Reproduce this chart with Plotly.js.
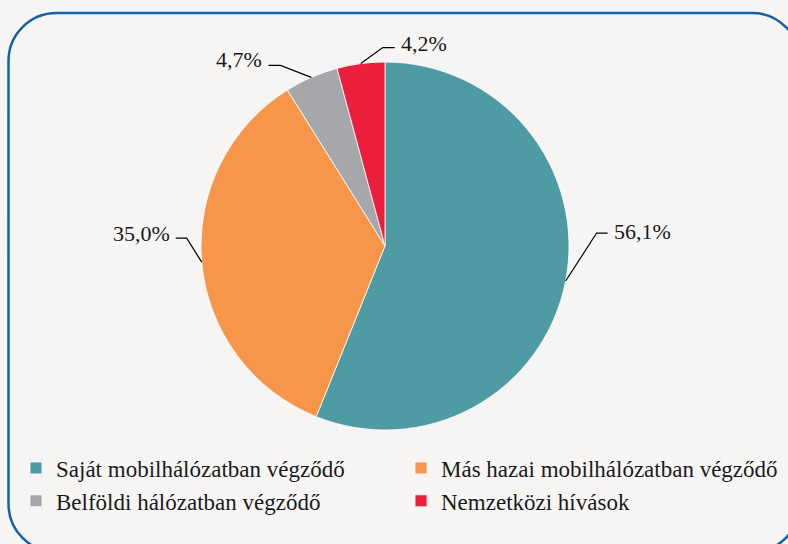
<!DOCTYPE html>
<html>
<head>
<meta charset="utf-8">
<script src="https://cdn.plot.ly/plotly-3.0.1.min.js"></script>
<style>html,body{margin:0;padding:0;background:#f6f5f3;}#chart{width:788px;height:544px;}</style>
</head>
<body>
<div id="chart"></div>
<script>
// ---- data ----
var categories = ["Saját mobilhálózatban végződő", "Más hazai mobilhálózatban végződő", "Belföldi hálózatban végződő", "Nemzetközi hívások"];
var values = [56.1, 35.0, 4.7, 4.2];
var valueLabels = ["56,1%", "35,0%", "4,7%", "4,2%"];
var colors = ["#4f9ba4", "#f7964a", "#a5a7aa", "#eb1f3b"];

// ---- layout config (pixels) ----
var W = 788, H = 544;
var CX = 385, CY = 246, R = 184;
var FONT = "Liberation Serif";
// leader line config per slice: elbow offset from slice edge, horizontal run, text gap, text vertical shift
var leader = [
  {dx: 31, dy: -48, run: 11, gap: 4, ty: -2},
  {dx: -15, dy: -24, run: -11, gap: 4, ty: -5},
  {dx: -31, dy: -12, run: -12, gap: 4, ty: -6},
  {dx: 22, dy: -16, run: 12, gap: 4, ty: -4}
];

function px(x) { return x / W; }
function py(y) { return 1 - y / H; }

var total = values.reduce(function (a, b) { return a + b; }, 0);
var shapes = [], annotations = [];
var cum = 0;
for (var i = 0; i < values.length; i++) {
  var mid = (cum + values[i] / 2) / total * 2 * Math.PI; // clockwise from 12 o'clock
  cum += values[i];
  var sx = CX + R * Math.sin(mid), sy = CY - R * Math.cos(mid);
  var ex = sx + leader[i].dx, ey = sy + leader[i].dy;
  var hx = ex + leader[i].run;
  shapes.push({
    type: "path", xref: "paper", yref: "paper",
    path: "M" + px(sx) + "," + py(sy) + " L" + px(ex) + "," + py(ey) + " L" + px(hx) + "," + py(ey),
    line: {color: "#000000", width: 1.2}
  });
  var right = leader[i].run > 0;
  annotations.push({
    xref: "paper", yref: "paper",
    x: px(hx + (right ? leader[i].gap : -leader[i].gap)), y: py(ey + leader[i].ty),
    xanchor: right ? "left" : "right", yanchor: "middle",
    text: valueLabels[i], showarrow: false,
    font: {family: FONT, size: 22, color: "#1a1a1a"}
  });
}

// rounded frame (partly outside the canvas)
var fx0 = 8.5, fy0 = 13, fx1 = 800, fy1 = 552, fr = 48, k = 0.5523 * fr;
var fp = "M" + px(fx0 + fr) + "," + py(fy0) +
  " L" + px(fx1 - fr) + "," + py(fy0) +
  " C" + px(fx1 - fr + k) + "," + py(fy0) + " " + px(fx1) + "," + py(fy0 + fr - k) + " " + px(fx1) + "," + py(fy0 + fr) +
  " L" + px(fx1) + "," + py(fy1 - fr) +
  " C" + px(fx1) + "," + py(fy1 - fr + k) + " " + px(fx1 - fr + k) + "," + py(fy1) + " " + px(fx1 - fr) + "," + py(fy1) +
  " L" + px(fx0 + fr) + "," + py(fy1) +
  " C" + px(fx0 + fr - k) + "," + py(fy1) + " " + px(fx0) + "," + py(fy1 - fr + k) + " " + px(fx0) + "," + py(fy1 - fr) +
  " L" + px(fx0) + "," + py(fy0 + fr) +
  " C" + px(fx0) + "," + py(fy0 + fr - k) + " " + px(fx0 + fr - k) + "," + py(fy0) + " " + px(fx0 + fr) + "," + py(fy0) + " Z";
shapes.unshift({type: "path", xref: "paper", yref: "paper", path: fp, line: {color: "#1560a6", width: 2.5}, layer: "below"});

var trace = {
  type: "pie",
  labels: categories,
  values: values,
  sort: false,
  direction: "clockwise",
  rotation: 0,
  textinfo: "none",
  hoverinfo: "label+percent",
  marker: {colors: colors, line: {color: "#ffffff", width: 0.8}},
  domain: {x: [px(CX - R), px(CX + R)], y: [py(CY + R), py(CY - R)]}
};

var layout = {
  width: W, height: H,
  margin: {l: 0, r: 0, t: 0, b: 0},
  font: {family: FONT},
  paper_bgcolor: "#f6f5f3",
  plot_bgcolor: "#f6f5f3",
  showlegend: true,
  legend: {
    orientation: "h",
    x: px(16), y: py(446.5), xanchor: "left", yanchor: "top",
    entrywidth: 340, entrywidthmode: "pixels",
    font: {family: FONT, size: 23, color: "#1a1a1a"},
    bgcolor: "rgba(0,0,0,0)"
  },
  shapes: shapes,
  annotations: annotations
};

Plotly.newPlot("chart", [trace], layout, {displayModeBar: false, staticPlot: true});
</script>
</body>
</html>
